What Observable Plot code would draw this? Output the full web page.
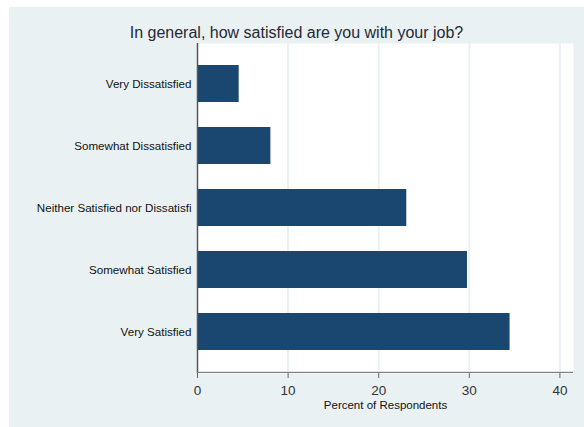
<!DOCTYPE html>
<html>
<head>
<meta charset="utf-8">
<script src="https://cdn.jsdelivr.net/npm/d3@7"></script>
<script src="https://cdn.jsdelivr.net/npm/@observablehq/plot@0.6"></script>
<style>
  html, body { margin: 0; padding: 0; background: #ffffff; }
  #wrap { position: absolute; left: 9px; top: 7px; width: 575px; height: 420px; background: #eaf1f3; }
  #title { position: absolute; left: 0; top: 17px; width: 575px; text-align: center;
    font-family: Arial, "Liberation Sans", sans-serif; font-size: 16px; line-height: 18px; color: #1f2a36; }
  #chart { position: absolute; left: 0; top: 0; }
</style>
</head>
<body>
<div id="wrap">
  <div id="chart"></div>
  <div id="title"></div>
</div>
<script>
const titleText = "In general, how satisfied are you with your job?";
const xLabel = "Percent of Respondents";
const categories = [
  "Very Dissatisfied",
  "Somewhat Dissatisfied",
  "Neither Satisfied nor Dissatisfi",
  "Somewhat Satisfied",
  "Very Satisfied"
];
const percents = [4.6, 8.1, 23.1, 29.8, 34.5];
const xTicks = [0, 10, 20, 30, 40];
const xMax = 41.5;

const data = categories.map((c, i) => ({category: c, percent: percents[i]}));

document.getElementById("title").textContent = titleText;

const chart = Plot.plot({
  width: 575,
  height: 420,
  marginLeft: 188,
  marginRight: 11,
  marginTop: 36,
  marginBottom: 54,
  style: {background: "transparent", fontFamily: "Arial, 'Liberation Sans', sans-serif", color: "#222"},
  x: {domain: [0, xMax]},
  y: {domain: categories, paddingInner: 0.4, paddingOuter: 0.35},
  marks: [
    Plot.frame({fill: "white", stroke: null}),
    Plot.gridX(xTicks.slice(1), {stroke: "#eaf1f3", strokeOpacity: 1, strokeWidth: 2}),
    Plot.barX(data, {x: "percent", y: "category", fill: "#1a476f"}),
    Plot.ruleX([0], {stroke: "#555", strokeWidth: 1.5}),
    Plot.rect([0], {x1: 0, x2: xMax, fill: "#808080", insetTop: 328.8}),
    Plot.axisY({tickSize: 0, tickPadding: 6, fontSize: 11.6, fill: "#111", label: null}),
    Plot.axisX(xTicks, {tickSize: 5, tickPadding: 7, fontSize: 13.5, stroke: "#666", fill: "#333", label: null}),
    Plot.text([xLabel], {frameAnchor: "bottom", lineAnchor: "top", dy: 27, fontSize: 11.5, fill: "#111"})
  ]
});
document.getElementById("chart").appendChild(chart);
</script>
</body>
</html>
